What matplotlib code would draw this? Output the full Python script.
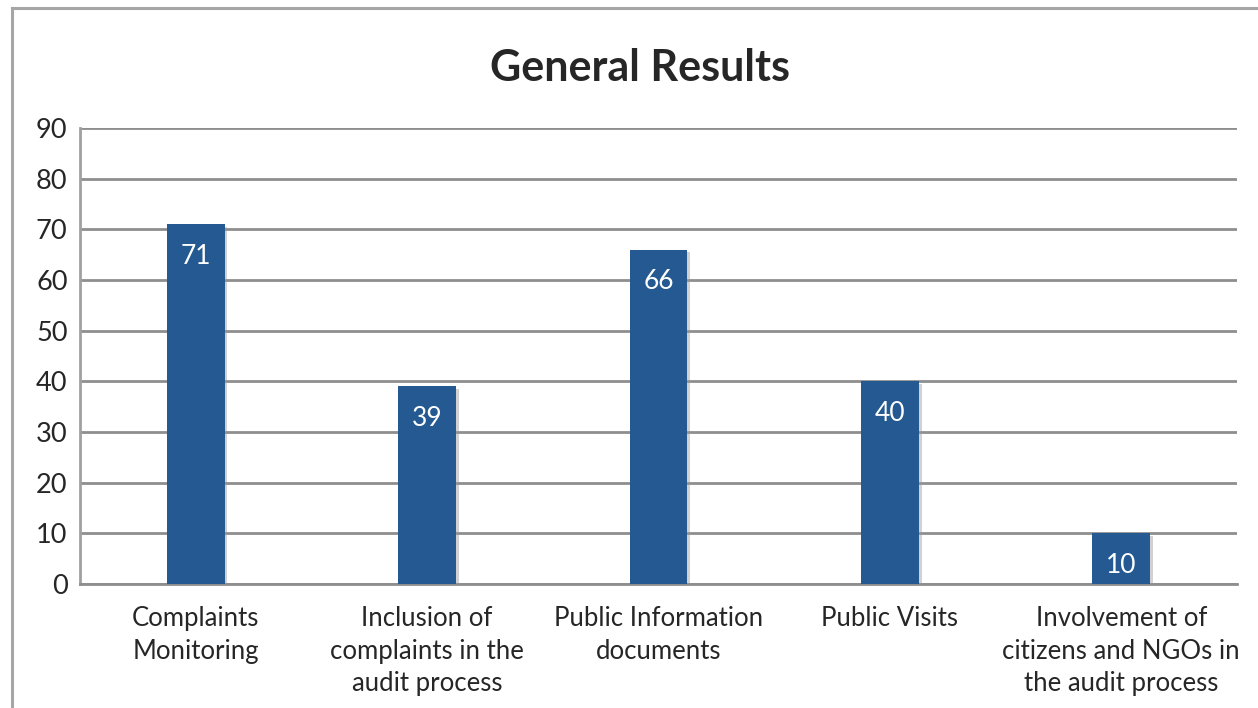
import matplotlib
matplotlib.use("Agg")
import matplotlib.pyplot as plt
from matplotlib import patheffects as pe
from matplotlib.lines import Line2D

plt.rcParams['font.family'] = ['Lato', 'DejaVu Sans']

categories = [
    "Complaints\nMonitoring",
    "Inclusion of\ncomplaints in the\naudit process",
    "Public Information\ndocuments",
    "Public Visits",
    "Involvement of\ncitizens and NGOs in\nthe audit process",
]
values = [71, 39, 66, 40, 10]
y_ticks = [0, 10, 20, 30, 40, 50, 60, 70, 80, 90]
title = "General Results"

bar_color = "#245A91"
grid_color = "#8E8E8E"
text_color = "#262626"

W, H = 1258, 708
fig = plt.figure(figsize=(W / 100, H / 100), dpi=100)
fig.patch.set_facecolor("white")

# chart frame (left and top edges)
fig.add_artist(Line2D([12 / W, 12 / W], [0, 1 - 8 / H], color="#A6A6A6", lw=2.2))
fig.add_artist(Line2D([12 / W, 1], [1 - 8 / H, 1 - 8 / H], color="#A6A6A6", lw=2.2))

left, right = 80 / W, 1237 / W
bottom, top = 1 - 584 / H, 1 - 128 / H
ax = fig.add_axes([left, bottom, right - left, top - bottom])

x = list(range(len(categories)))
bars = ax.bar(x, values, width=0.25, color=bar_color, zorder=3,
              path_effects=[pe.SimplePatchShadow(offset=(2, -2), shadow_rgbFace="#999999", alpha=0.45),
                            pe.Normal()])

ax.set_xlim(-0.5, len(categories) - 0.5)
ax.set_ylim(0, 90)
ax.set_yticks(y_ticks)
ax.set_yticklabels([str(v) for v in y_ticks], fontsize=19.5, color=text_color)
ax.set_xticks(x)
ax.set_xticklabels(categories, fontsize=18.5, color=text_color, linespacing=1.38, va="top")
ax.tick_params(axis="y", length=0, pad=9)
ax.tick_params(axis="x", length=0, pad=16)

ax.grid(axis="y", color=grid_color, lw=2, zorder=1)
ax.set_axisbelow(True)
for s in ["top", "right"]:
    ax.spines[s].set_visible(False)
ax.spines["left"].set_color("#A0A0A0")
ax.spines["left"].set_linewidth(2)
ax.spines["bottom"].set_color(grid_color)
ax.spines["bottom"].set_linewidth(2)

for xi, v in zip(x, values):
    ax.annotate(str(v), xy=(xi, v), xytext=(0, -23), textcoords="offset points",
                ha="center", va="center", color="white", fontsize=19, zorder=4)

fig.text(640 / W, 1 - 68 / H, title, ha="center", va="center",
         fontsize=31, fontweight="bold", color=text_color)

fig.savefig("out.png", dpi=100)
